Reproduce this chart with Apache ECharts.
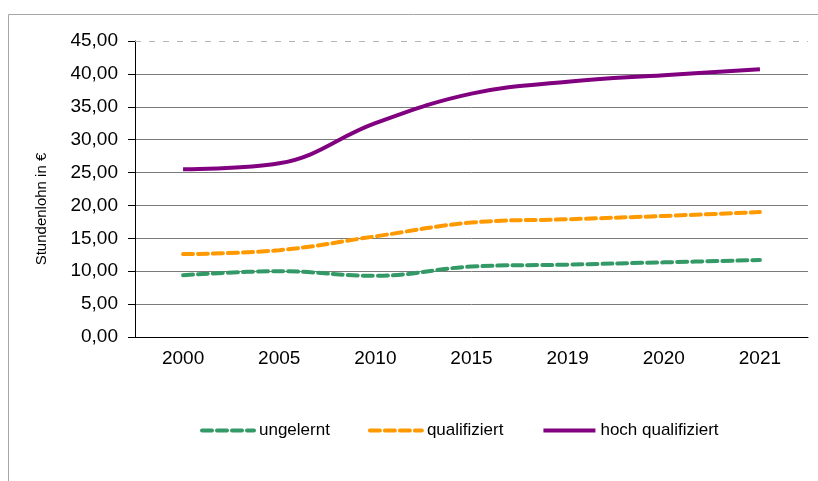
<!DOCTYPE html>
<html>
<head>
    <meta charset="utf-8" />
    <title>Stundenlohn</title>
    <style>
        html, body { margin: 0; padding: 0; background: #fff; }
        #main { width: 818px; height: 481px; }
    </style>
    <script src="https://cdn.jsdelivr.net/npm/echarts@6/dist/echarts.min.js"></script>
</head>
<body>
    <div id="main"></div>
    <script type="text/javascript">
        // Jahre und Stundenlöhne
        var years = ['2000', '2005', '2010', '2015', '2019', '2020', '2021'];
        var ungelernt = [9.4, 10.0, 9.3, 10.7, 11.0, 11.35, 11.7];
        var qualifiziert = [12.6, 13.2, 15.3, 17.4, 17.9, 18.4, 19.0];
        var hochQualifiziert = [25.5, 26.4, 32.5, 37.0, 38.8, 39.8, 40.7];

        var font = 'Liberation Sans, Arial, sans-serif';
        var dash = [10, 5];
        var myChart = echarts.init(document.getElementById('main'));

        var option = {
            animation: false,
            graphic: [{
                type: 'rect',
                shape: { x: 8.5, y: 14.5, width: 830, height: 480 },
                style: { fill: 'none', stroke: '#a6a6a6', lineWidth: 1 },
                silent: true
            }, {
                // Achsentitel
                type: 'text',
                x: 42,
                y: 209,
                rotation: Math.PI / 2,
                style: {
                    text: 'Stundenlohn in €',
                    fontFamily: font,
                    fontSize: 15,
                    fill: '#000',
                    align: 'center',
                    verticalAlign: 'middle'
                },
                silent: true
            }],
            grid: { left: 135, right: 10, top: 41, bottom: 144 },
            legend: {
                bottom: 37,
                left: 195,
                itemWidth: 52,
                itemHeight: 10,
                itemGap: 38,
                itemStyle: { opacity: 0 },
                textStyle: { fontFamily: font, fontSize: 17, color: '#000' },
                data: [
                    { name: 'ungelernt', lineStyle: { width: 4, type: dash, cap: 'round', color: '#339966' } },
                    { name: 'qualifiziert', lineStyle: { width: 4, type: dash, cap: 'round', color: '#ff9900' } },
                    { name: 'hoch qualifiziert', lineStyle: { width: 4, type: 'solid', color: '#800080' } }
                ]
            },
            xAxis: {
                type: 'category',
                data: years,
                boundaryGap: true,
                axisLine: { lineStyle: { color: '#000', width: 1 } },
                axisTick: { length: 5, lineStyle: { color: '#000' } },
                axisLabel: { fontFamily: font, fontSize: 19, color: '#000', margin: 12 }
            },
            yAxis: {
                type: 'value',
                min: 0,
                max: 45,
                interval: 5,
                axisLine: { show: true, lineStyle: { color: '#000', width: 1 } },
                axisTick: { show: true, length: 7, lineStyle: { color: '#000' } },
                axisLabel: {
                    fontFamily: font, fontSize: 19, color: '#000', margin: 17,
                    formatter: function (v) { return v.toFixed(2).replace('.', ','); }
                },
                splitLine: {
                    show: true,
                    lineStyle: {
                        width: 1,
                        color: ['#7a7a7a', '#7a7a7a', '#7a7a7a', '#7a7a7a', '#7a7a7a',
                            '#7a7a7a', '#7a7a7a', '#7a7a7a', '#7a7a7a', 'rgba(0,0,0,0)']
                    }
                }
            },
            series: [
                {
                    name: 'ungelernt',
                    type: 'line',
                    data: ungelernt,
                    smooth: 0.4,
                    symbol: 'none',
                    color: '#339966',
                    lineStyle: { width: 4, type: dash, cap: 'round' },
                    markLine: {
                        silent: true,
                        symbol: 'none',
                        label: { show: false },
                        lineStyle: { color: '#b4b4b4', width: 1, type: [6, 8] },
                        data: [{ yAxis: 45 }]
                    }
                },
                {
                    name: 'qualifiziert',
                    type: 'line',
                    data: qualifiziert,
                    smooth: 0.4,
                    symbol: 'none',
                    color: '#ff9900',
                    lineStyle: { width: 4, type: dash, cap: 'round' }
                },
                {
                    name: 'hoch qualifiziert',
                    type: 'line',
                    data: hochQualifiziert,
                    smooth: 0.4,
                    symbol: 'none',
                    color: '#800080',
                    lineStyle: { width: 4 }
                }
            ]
        };
        myChart.setOption(option);
    </script>
</body>
</html>
